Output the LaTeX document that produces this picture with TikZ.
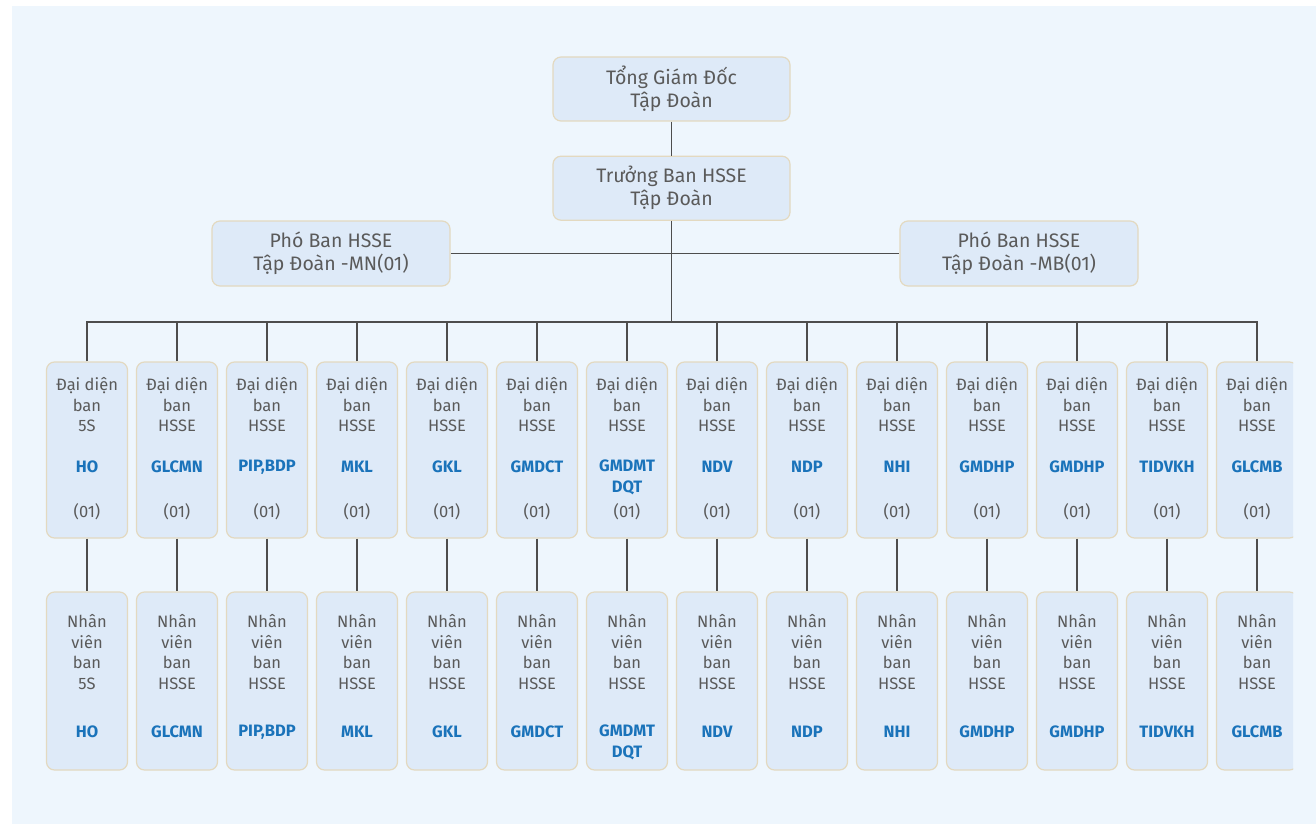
\documentclass[tikz,border=0pt]{standalone}
\usepackage{fontspec}
\setmainfont{Fira Sans}
\usetikzlibrary{positioning,calc}
\definecolor{panelbg}{HTML}{EEF6FD}
\definecolor{boxfill}{HTML}{DEEAF8}
\definecolor{boxline}{HTML}{E3D9C0}
\definecolor{txtgray}{HTML}{5A5A5A}
\definecolor{unitblue}{HTML}{1A73BA}
\definecolor{linegray}{HTML}{4D4D4D}
\tikzset{
  box/.style={draw=boxline, fill=boxfill, rounded corners=8pt, line width=1.2pt,
    text=txtgray, align=center, inner sep=0pt},
  topbox/.style={box, minimum width=237pt, minimum height=64pt,
    font=\fontsize{19.5}{23}\selectfont},
  colbox/.style={box, minimum width=81pt},
  txt/.style={text=txtgray, align=center, inner sep=0pt,
    font=\fontsize{16.5}{20.5}\selectfont},
  unitlbl/.style={txt, text=unitblue, font=\fontsize{16.5}{21}\selectfont\bfseries},
  link/.style={draw=linegray, line width=1.3pt}
}
\begin{document}
\begin{tikzpicture}[x=1pt, y=-1pt]
    \fill[panelbg] (12,6) rectangle (1316,824);
    \useasboundingbox (0,0) rectangle (1316,824);
    %
    \node[topbox] (tgd) at (671.5,89) {Tổng Giám Đốc\\Tập Đoàn};
    \node[topbox, below=34pt of tgd] (tb) {Trưởng Ban HSSE\\Tập Đoàn};
    \node[topbox, minimum width=238pt, minimum height=65pt] (pbl) at (331,253.5) {Phó Ban HSSE\\Tập Đoàn -MN(01)};
    \node[topbox, minimum width=238pt, minimum height=65pt] (pbr) at (1019,253.5) {Phó Ban HSSE\\Tập Đoàn -MB(01)};
    \coordinate (bar) at (671.5,322);
    %
    \draw[link] (tgd) -- (tb);
    \draw[link] (tb) -- (bar);
    \draw[link] (pbl) -- (pbr);
    %
    \begin{scope}
      \clip (0,0) rectangle (1293,824);
      \foreach \i in {1,...,14}{
        \pgfmathsetmacro\cx{87+90*(\i-1)}
        \node[colbox, minimum height=176pt] (rep\i) at (\cx,450) {};
        \node[colbox, minimum height=178pt] (nv\i) at (\cx,681) {};
      }
    \end{scope}
    %
    \foreach \i/\dept/\grp/\dy in {1/5S/HO/0, 2/HSSE/GLCMN/0, 3/HSSE/{PIP,BDP}/0,
        4/HSSE/MKL/0, 5/HSSE/GKL/0, 6/HSSE/GMDCT/0, 7/HSSE/{GMDMT\\DQT}/10.5,
        8/HSSE/NDV/0, 9/HSSE/NDP/0, 10/HSSE/NHI/0, 11/HSSE/GMDHP/0,
        12/HSSE/GMDHP/0, 13/HSSE/TIDVKH/0, 14/HSSE/GLCMB/0}{
      \pgfmathsetmacro\cx{87+90*(\i-1)}
      \node[txt] (rept\i) at (\cx,405) {Đại diện\\ban\\\dept};
      \node[unitlbl] (repu\i) at (\cx,{467+\dy}) {\grp};
      \node[txt] (repn\i) at (\cx,512) {(01)};
      \node[txt] (nvt\i) at (\cx,652) {Nhân\\viên\\ban\\\dept};
      \node[unitlbl] (nvu\i) at (\cx,{732+\dy}) {\grp};
      %
      \draw[link] (rep\i.north) |- (bar);
      \draw[link] (rep\i) -- (nv\i);
    }
\end{tikzpicture}
\end{document}
